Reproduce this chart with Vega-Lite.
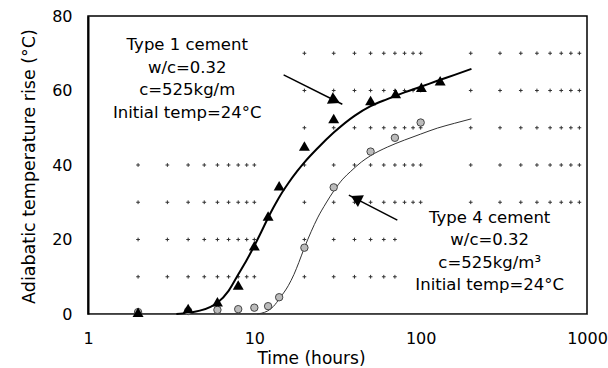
{
  "$schema": "https://vega.github.io/schema/vega-lite/v6.json",
  "width": 499,
  "height": 298,
  "autosize": {"type": "none"},
  "padding": {"left": 88, "top": 16, "right": 21, "bottom": 54},
  "config": {
    "font": "DejaVu Sans",
    "view": {"stroke": "#000", "strokeWidth": 1.5}
  },
  "datasets": {
    "grid": [
      {"y": 10, "xs": [2, 3, 4, 5, 6, 7, 8, 9, 10, 20, 30, 40, 50, 60, 70]},
      {"y": 20, "xs": [2, 3, 4, 5, 6, 7, 8, 9, 10, 20, 30, 40, 50, 60, 70]},
      {"y": 30, "xs": [2, 3, 4, 5, 6, 7, 8, 9, 10, 20, 30, 40, 50, 60, 70, 80, 90, 100, 200, 300, 400, 500, 600, 700, 800, 900]},
      {"y": 40, "xs": [2, 3, 4, 5, 6, 7, 8, 9, 10, 20, 30, 40, 50, 60, 70, 80, 90, 100, 200, 300, 400, 500, 600, 700, 800, 900]},
      {"y": 50, "xs": [20, 30, 40, 50, 60, 70, 80, 90, 100, 200, 300, 400, 500, 600, 700, 800, 900]},
      {"y": 60, "xs": [20, 30, 40, 50, 60, 70, 80, 90, 100, 200, 300, 400, 500, 600, 700, 800, 900]},
      {"y": 70, "xs": [20, 30, 40, 50, 60, 70, 80, 90, 100, 200, 300, 400, 500, 600, 700, 800, 900]}
    ],
    "curve1": [
      {"x": 3.4, "y": 0}, {"x": 4, "y": 0.3}, {"x": 4.7, "y": 0.9}, {"x": 5.5, "y": 2.0},
      {"x": 6, "y": 3.0}, {"x": 7, "y": 6.2}, {"x": 8, "y": 10.6}, {"x": 9, "y": 14.5},
      {"x": 10, "y": 18.3}, {"x": 11, "y": 22.0}, {"x": 12, "y": 25.5}, {"x": 13, "y": 28.5},
      {"x": 14, "y": 31.1}, {"x": 16, "y": 35.1}, {"x": 18, "y": 38.2}, {"x": 20, "y": 40.7},
      {"x": 24, "y": 44.5}, {"x": 30, "y": 48.7}, {"x": 40, "y": 53.2}, {"x": 50, "y": 55.8},
      {"x": 63, "y": 57.7}, {"x": 80, "y": 59.5}, {"x": 100, "y": 61.0}, {"x": 126, "y": 62.6},
      {"x": 160, "y": 64.2}, {"x": 202, "y": 65.8}
    ],
    "curve4": [
      {"x": 10.4, "y": 0}, {"x": 11, "y": 0.2}, {"x": 12, "y": 0.8}, {"x": 13, "y": 2.0},
      {"x": 14.3, "y": 4.4}, {"x": 16, "y": 7.6}, {"x": 17.3, "y": 10.6}, {"x": 18.5, "y": 13.8},
      {"x": 20, "y": 17.8}, {"x": 22, "y": 22.2}, {"x": 24, "y": 25.8}, {"x": 27, "y": 29.8},
      {"x": 30, "y": 33.0}, {"x": 34, "y": 36.2}, {"x": 38, "y": 38.3}, {"x": 44, "y": 40.8},
      {"x": 50, "y": 42.5}, {"x": 63, "y": 44.8}, {"x": 80, "y": 46.7}, {"x": 100, "y": 48.3},
      {"x": 126, "y": 49.9}, {"x": 160, "y": 51.2}, {"x": 202, "y": 52.4}
    ],
    "type1": [
      {"x": 2, "y": 0.5}, {"x": 4, "y": 1.5}, {"x": 6, "y": 3.3}, {"x": 8, "y": 7.8},
      {"x": 10, "y": 18.3}, {"x": 12.1, "y": 26.3}, {"x": 14.1, "y": 34.4}, {"x": 20, "y": 45.1},
      {"x": 30, "y": 52.5}, {"x": 50, "y": 57.3}, {"x": 70.7, "y": 59.2}, {"x": 101, "y": 60.9},
      {"x": 131, "y": 62.6}
    ],
    "type4": [
      {"x": 2, "y": 0.5}, {"x": 4, "y": 0.8}, {"x": 6, "y": 1.1}, {"x": 8, "y": 1.3},
      {"x": 10, "y": 1.7}, {"x": 12.1, "y": 2.1}, {"x": 14.1, "y": 4.5}, {"x": 20, "y": 17.8},
      {"x": 30, "y": 34.0}, {"x": 50, "y": 43.6}, {"x": 70, "y": 47.3}, {"x": 100, "y": 51.4}
    ],
    "arrows": [
      {"id": "t1", "x": 15.0, "y": 64.2, "x2": 33.8, "y2": 56.3},
      {"id": "t4", "x": 72.4, "y": 25.2, "x2": 37.0, "y2": 31.9}
    ],
    "heads": [
      {"id": "t1", "x": 30.5, "y": 57.3},
      {"id": "t4", "x": 40.8, "y": 31.0}
    ],
    "notes": [
      {"id": "t1", "x": 3.95, "y": 72.2, "lines": ["Type 1 cement", "w/c=0.32", "c=525kg/m", "Initial temp=24°C"]},
      {"id": "t4", "x": 260, "y": 25.8, "lines": ["Type 4 cement", "w/c=0.32", "c=525kg/m³", "Initial temp=24°C"]}
    ]
  },
  "encoding": {
    "x": {
      "field": "x",
      "type": "quantitative",
      "scale": {"type": "log", "domain": [1, 1000], "nice": false},
      "axis": {
        "values": [1, 10, 100, 1000],
        "format": "d",
        "ticks": false,
        "grid": false,
        "labelFontSize": 16,
        "labelColor": "#000",
        "labelPadding": 16,
        "labelFlush": false,
        "labelOverlap": false,
        "domainColor": "#555",
        "domainWidth": 1,
        "title": "Time (hours)",
        "titleFontSize": 17,
        "titleFontWeight": "normal",
        "titleColor": "#000",
        "titleX": 223,
        "titleY": 49,
        "titleBaseline": "alphabetic",
        "titleAlign": "center"
      }
    },
    "y": {
      "field": "y",
      "type": "quantitative",
      "scale": {"domain": [0, 80], "nice": false},
      "axis": {
        "values": [0, 20, 40, 60, 80],
        "ticks": false,
        "grid": false,
        "labelFontSize": 16,
        "labelColor": "#000",
        "labelPadding": 16,
        "domainColor": "#000",
        "domainWidth": 2,
        "title": "Adiabatic temperature rise (°C)",
        "titleFontSize": 17.5,
        "titleFontWeight": "normal",
        "titleColor": "#000",
        "titleX": -59,
        "titleY": 150,
        "titleAngle": -90,
        "titleAlign": "center",
        "titleBaseline": "middle"
      }
    }
  },
  "layer": [
    {
      "data": {"name": "grid"},
      "transform": [{"flatten": ["xs"], "as": ["x"]}],
      "mark": {"type": "point", "shape": "M-1,0H1M0,-1V1", "size": 14, "filled": false, "stroke": "#333", "strokeWidth": 1, "opacity": 1}
    },
    {
      "data": {"name": "curve4"},
      "mark": {"type": "line", "interpolate": "monotone", "stroke": "#333", "strokeWidth": 1}
    },
    {
      "data": {"name": "curve1"},
      "mark": {"type": "line", "interpolate": "monotone", "stroke": "#000", "strokeWidth": 2}
    },
    {
      "data": {"name": "type4"},
      "mark": {"type": "point", "shape": "circle", "size": 55, "filled": true, "fill": "#bbb", "stroke": "#444", "strokeWidth": 1, "opacity": 1}
    },
    {
      "data": {"name": "type1"},
      "mark": {"type": "point", "shape": "triangle-up", "size": 120, "filled": true, "fill": "#000", "opacity": 1}
    },
    {
      "data": {"name": "arrows"},
      "mark": {"type": "rule", "stroke": "#000", "strokeWidth": 1.5},
      "encoding": {
        "x2": {"field": "x2"},
        "y2": {"field": "y2"}
      }
    },
    {
      "data": {"name": "heads"},
      "transform": [{"filter": "datum.id === 't1'"}],
      "mark": {"type": "point", "shape": "triangle-right", "angle": 26.6, "size": 170, "filled": true, "fill": "#000", "opacity": 1}
    },
    {
      "data": {"name": "heads"},
      "transform": [{"filter": "datum.id === 't4'"}],
      "mark": {"type": "point", "shape": "triangle-right", "angle": 207.3, "size": 170, "filled": true, "fill": "#000", "opacity": 1}
    },
    {
      "data": {"name": "notes"},
      "mark": {"type": "text", "align": "center", "baseline": "middle", "fontSize": 16.5, "lineHeight": 22.5, "color": "#000"},
      "encoding": {"text": {"field": "lines"}}
    }
  ]
}
